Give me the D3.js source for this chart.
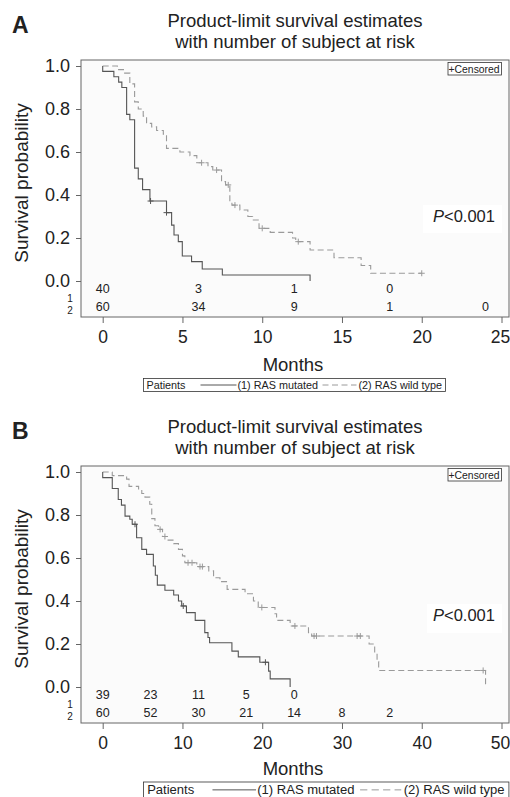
<!DOCTYPE html>
<html>
<head>
<meta charset="utf-8">
<title>Product-limit survival estimates</title>
<script src="https://cdnjs.cloudflare.com/ajax/libs/d3/7.8.5/d3.min.js"></script>
<style>
  body { margin: 0; background: #fff; }
  text { font-family: "Liberation Sans", Arial, sans-serif; fill: #222; }
</style>
</head>
<body>
<div id="chart"></div>

<script>
// tick values
var yTicks = [0, 0.2, 0.4, 0.6, 0.8, 1.0];
var xTicksA = [0, 5, 10, 15, 20, 25];
var xTicksB = [0, 10, 20, 30, 40, 50];

// number at risk
var riskTimesA = [0, 6, 12, 18, 24];
var riskMutA = [40, 3, 1, 0];
var riskWildA = [60, 34, 9, 1, 0];
var riskTimesB = [0, 6, 12, 18, 24, 30, 36];
var riskMutB = [39, 23, 11, 5, 0];
var riskWildB = [60, 52, 30, 21, 14, 8, 2];

// KM steps [months, survival]
var mutA = [[0, 1], [0, 0.975], [0.7, 0.95], [1.0, 0.925], [1.2, 0.9], [1.5, 0.775], [1.7, 0.75],
  [2.0, 0.525], [2.23, 0.475], [2.5, 0.425], [2.96, 0.372], [4.0, 0.318], [4.32, 0.26], [4.47, 0.214],
  [4.74, 0.183], [4.99, 0.116], [5.57, 0.09], [6.24, 0.056], [7.5, 0.028], [13.0, 0]];
var mutACens = [3.0, 4.0];

var wildA = [[0, 1], [0.92, 0.983], [1.3, 0.967], [1.7, 0.917], [2.0, 0.833], [2.23, 0.8], [2.54, 0.767],
  [2.75, 0.733], [3.07, 0.717], [3.38, 0.7], [3.8, 0.683], [4.0, 0.617], [4.84, 0.6], [5.47, 0.583],
  [5.9, 0.55], [6.6, 0.532], [6.9, 0.516], [7.45, 0.462], [7.7, 0.447], [7.97, 0.369], [8.1, 0.353],
  [8.6, 0.33], [9.1, 0.3], [9.4, 0.284], [9.8, 0.245], [10.5, 0.226], [11.9, 0.2], [12.1, 0.183],
  [13.0, 0.144], [14.5, 0.108], [16.2, 0.072], [16.8, 0.036], [20.0, 0.036]];
var wildACens = [6.2, 7.14, 7.87, 8.29, 10.0, 12.26, 20.0];

var mutB = [[0, 1], [0, 0.974], [1.2, 0.923], [1.95, 0.872], [2.35, 0.846], [2.8, 0.795], [3.4, 0.78],
  [3.7, 0.757], [4.25, 0.694], [4.9, 0.64], [5.5, 0.617], [6.35, 0.563], [6.6, 0.52], [6.85, 0.474],
  [7.8, 0.45], [8.9, 0.428], [9.5, 0.4], [9.9, 0.377], [10.5, 0.346], [11.6, 0.31], [12.8, 0.253],
  [13.2, 0.23], [13.4, 0.206], [16.2, 0.167], [17.0, 0.14], [19.7, 0.115], [20.8, 0.074],
  [21.0, 0.038], [23.5, 0]];
var mutBCens = [4.05, 10.1, 20.4];

var wildB = [[0, 1], [1.2, 0.983], [3.0, 0.967], [3.3, 0.933], [4.5, 0.917], [4.9, 0.9], [5.3, 0.883],
  [5.9, 0.85], [6.15, 0.783], [6.55, 0.75], [7.0, 0.733], [7.5, 0.7], [8.2, 0.683], [8.9, 0.667],
  [9.5, 0.64], [10.0, 0.61], [10.3, 0.578], [11.8, 0.56], [13.3, 0.54], [13.9, 0.508], [14.7, 0.49],
  [15.6, 0.454], [17.85, 0.434], [18.9, 0.4], [19.5, 0.37], [21.6, 0.341], [21.8, 0.31], [23.5, 0.284],
  [25.8, 0.253], [26.2, 0.237], [33.4, 0.2], [34.1, 0.16], [34.4, 0.118], [34.6, 0.077], [48.0, 0]];
var wildBCens = [7.2, 7.8, 10.7, 11.2, 12.2, 12.5, 19.95, 24.1, 26.5, 26.8, 31.9, 32.3, 47.7];

var mutColor = "#555";
var wildColor = "#9a9a9a";

var svg = d3.select("#chart").append("svg")
    .attr("width", 510)
    .attr("height", 797);

function survAt(curve, t) {
    var s = 1;
    curve.forEach(function (p) { if (p[0] <= t) s = p[1]; });
    return s;
}

function drawPanel(cfg) {
    var g = svg.append("g").attr("transform", "translate(0," + cfg.oy + ")");

    g.append("text").attr("x", 12).attr("y", 33)
        .style("font-size", "23px").style("font-weight", "bold").text(cfg.letter);

    var title = g.append("text").attr("text-anchor", "middle").style("font-size", "18.5px");
    title.append("tspan").attr("x", 295).attr("y", 27).text("Product-limit survival estimates");
    title.append("tspan").attr("x", 295).attr("y", 48).text("with number of subject at risk");

    // frame
    g.append("rect").attr("x", 81).attr("y", 60).attr("width", 428).attr("height", 257)
        .attr("fill", "#fbfbfb").attr("stroke", "#666").attr("stroke-width", 1);

    var x = d3.scaleLinear().domain([0, cfg.xMax]).range([102.7, 501.5]);
    var y = d3.scaleLinear().domain([0, 1]).range([281, 66]);

    var yAxis = g.append("g").attr("transform", "translate(81,0)")
        .call(d3.axisLeft(y).tickValues(yTicks).tickFormat(d3.format(".1f")).tickSize(5).tickPadding(6));
    yAxis.select(".domain").remove();
    yAxis.selectAll("line").attr("stroke", "#666");
    yAxis.selectAll("text").style("font-size", "18px").attr("fill", "#222").attr("dy", "0.32em");

    var xAxis = g.append("g").attr("transform", "translate(0,317)")
        .call(d3.axisBottom(x).tickValues(cfg.xTicks).tickSize(6).tickPadding(8));
    xAxis.select(".domain").remove();
    xAxis.selectAll("line").attr("stroke", "#666");
    xAxis.selectAll("text").style("font-size", "17.5px").attr("fill", "#222")
        .attr("dx", function (d, i, n) { return i === n.length - 1 ? -1.5 : 0; });

    g.append("text").attr("x", 293).attr("y", cfg.monthsY).attr("text-anchor", "middle")
        .style("font-size", "18.5px").text("Months");

    g.append("text").attr("transform", "translate(28,183) rotate(-90)")
        .attr("text-anchor", "middle").style("font-size", "19px").text("Survival probability");

    // P value box
    g.append("rect").attr("x", cfg.pBox[0]).attr("y", cfg.pBox[1]).attr("width", 502 - cfg.pBox[0])
        .attr("height", cfg.pBox[2] - cfg.pBox[1]).attr("fill", "#fff");
    var pt = g.append("text").attr("x", 433).attr("y", cfg.pY).style("font-size", "16.5px");
    pt.append("tspan").style("font-style", "italic").text("P");
    pt.append("tspan").text("<0.001");

    // censored key
    g.append("rect").attr("x", 448).attr("y", 62.5).attr("width", 53.5).attr("height", 12.5)
        .attr("fill", "#fff").attr("stroke", "#333").attr("stroke-width", 0.8);
    g.append("text").attr("x", 448.5).attr("y", 72.6).style("font-size", "10.4px").text("+Censored");

    var line = d3.line().x(function (d) { return x(d[0]); }).y(function (d) { return y(d[1]); })
        .curve(d3.curveStepAfter);

    var series = [
        { curve: cfg.wild, cens: cfg.wildCens, color: wildColor, dash: "6,3.5" },
        { curve: cfg.mut, cens: cfg.mutCens, color: mutColor, dash: null }
    ];
    series.forEach(function (s) {
        g.append("path").datum(s.curve).attr("d", line)
            .attr("fill", "none").attr("stroke", s.color).attr("stroke-width", 1.1)
            .attr("stroke-dasharray", s.dash);
        g.selectAll(null).data(s.cens).enter().append("path")
            .attr("d", function (t) {
                var cx = x(t), cy = y(survAt(s.curve, t));
                return "M" + (cx - 3) + "," + cy + "H" + (cx + 3) + "M" + cx + "," + (cy - 3) + "V" + (cy + 3);
            })
            .attr("stroke", s.color).attr("stroke-width", 1);
    });

    // number at risk
    g.append("text").attr("x", 70).attr("y", 301.5).attr("text-anchor", "middle").style("font-size", "10px").text("1");
    g.append("text").attr("x", 70).attr("y", 314).attr("text-anchor", "middle").style("font-size", "10px").text("2");
    g.selectAll(null).data(cfg.riskMut).enter().append("text")
        .attr("x", function (d, i) { return x(cfg.riskTimes[i]); }).attr("y", 292.5)
        .attr("text-anchor", "middle").style("font-size", "12.5px").text(function (d) { return d; });
    g.selectAll(null).data(cfg.riskWild).enter().append("text")
        .attr("x", function (d, i) { return x(cfg.riskTimes[i]); }).attr("y", 310.5)
        .attr("text-anchor", "middle").style("font-size", "12.5px").text(function (d) { return d; });

    // legend (layout in units of the A legend, scaled per panel)
    var L = cfg.legend, k = L.k, x0 = 143.5;
    var fs = 10.8 * k, h = 13 * k, midY = L.y + h / 2;
    g.append("rect").attr("x", x0).attr("y", L.y).attr("width", 302 * k).attr("height", h)
        .attr("fill", "#fff").attr("stroke", "#333").attr("stroke-width", 0.8);
    g.append("text").attr("x", x0 + 3 * k).attr("y", midY).attr("dy", "0.35em").style("font-size", fs + "px").text("Patients");
    g.append("line").attr("x1", x0 + 57 * k).attr("x2", x0 + 93 * k).attr("y1", midY).attr("y2", midY)
        .attr("stroke", mutColor).attr("stroke-width", 1);
    g.append("text").attr("x", x0 + 94 * k).attr("y", midY).attr("dy", "0.35em").style("font-size", fs + "px").text("(1) RAS mutated");
    g.append("line").attr("x1", x0 + 179 * k).attr("x2", x0 + 213 * k).attr("y1", midY).attr("y2", midY)
        .attr("stroke", wildColor).attr("stroke-width", 1).attr("stroke-dasharray", (6 * k) + "," + (3.5 * k));
    g.append("text").attr("x", x0 + 215 * k).attr("y", midY).attr("dy", "0.35em").style("font-size", fs + "px").text("(2) RAS wild type");
}

drawPanel({
    oy: 0, letter: "A", xMax: 25, xTicks: xTicksA,
    mut: mutA, mutCens: mutACens, wild: wildA, wildCens: wildACens,
    riskTimes: riskTimesA, riskMut: riskMutA, riskWild: riskWildA,
    monthsY: 371, pBox: [423, 205, 233], pY: 222,
    legend: { y: 378.5, k: 1 }
});

drawPanel({
    oy: 406, letter: "B", xMax: 50, xTicks: xTicksB,
    mut: mutB, mutCens: mutBCens, wild: wildB, wildCens: wildBCens,
    riskTimes: riskTimesB, riskMut: riskMutB, riskWild: riskWildB,
    monthsY: 369, pBox: [427, 198, 227], pY: 215,
    legend: { y: 376, k: 1.21 }
});
</script>
</body>
</html>
